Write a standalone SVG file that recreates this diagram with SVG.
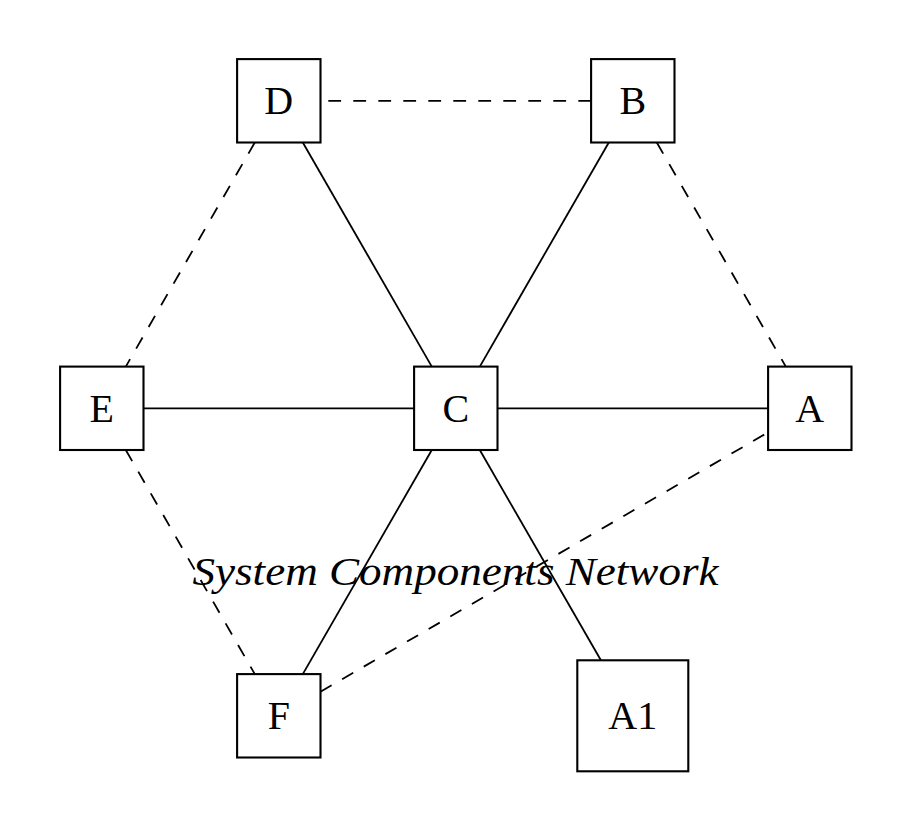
<svg xmlns="http://www.w3.org/2000/svg" width="912" height="832" viewBox="0 0 912 832">
<style>
.box{fill:#fff;stroke:#000;stroke-width:2.1}
.lbl{font-family:"Liberation Serif","DejaVu Serif",serif;font-size:40px;fill:#000;text-anchor:middle}
.solid{stroke:#000;stroke-width:1.8;fill:none}
.dash{stroke:#000;stroke-width:1.8;fill:none;stroke-dasharray:12.8 12.2}
.title{font-family:"Liberation Serif","DejaVu Serif",serif;font-style:italic;font-size:40px;fill:#000;text-anchor:middle}
</style>
<rect width="912" height="832" fill="#fff"/>
<g id="connectors">
<line class="solid" x1="497.5" y1="408.3" x2="768.1" y2="408.3"/>
<line class="solid" x1="414.1" y1="408.3" x2="143.5" y2="408.3"/>
<line class="solid" x1="431.8" y1="366.6" x2="302.8" y2="142.5"/>
<line class="solid" x1="479.8" y1="366.6" x2="608.8" y2="142.5"/>
<line class="solid" x1="431.8" y1="450" x2="302.8" y2="674.1"/>
<line class="solid" x1="479.8" y1="450" x2="600.9" y2="660.3"/>
<line class="dash" x1="591.1" y1="100.8" x2="320.5" y2="100.8"/>
<line class="dash" x1="254.8" y1="142.5" x2="125.8" y2="366.6"/>
<line class="dash" x1="656.8" y1="142.5" x2="785.8" y2="366.6"/>
<line class="dash" x1="125.8" y1="450" x2="254.8" y2="674.1"/>
<line class="dash" x1="320.5" y1="691.7" x2="768.1" y2="432.4"/>
</g>
<g id="C"><rect class="box" x="414.1" y="366.6" width="83.4" height="83.4"/><text class="lbl" x="455.8" y="421.8">C</text></g>
<g id="A"><rect class="box" x="768.1" y="366.6" width="83.4" height="83.4"/><text class="lbl" x="809.8" y="421.8">A</text></g>
<g id="E"><rect class="box" x="60.1" y="366.6" width="83.4" height="83.4"/><text class="lbl" x="101.8" y="421.8">E</text></g>
<g id="D"><rect class="box" x="237.1" y="59.1" width="83.4" height="83.4"/><text class="lbl" x="278.8" y="114.3">D</text></g>
<g id="B"><rect class="box" x="591.1" y="59.1" width="83.4" height="83.4"/><text class="lbl" x="632.8" y="114.3">B</text></g>
<g id="F"><rect class="box" x="237.1" y="674.1" width="83.4" height="83.4"/><text class="lbl" x="278.8" y="729.3">F</text></g>
<g id="A1"><rect class="box" x="577.3" y="660.3" width="111" height="111"/><text class="lbl" x="632.8" y="729.3">A1</text></g>
<text class="title" x="455.5" y="585" textLength="526" lengthAdjust="spacingAndGlyphs">System Components Network</text>
</svg>
